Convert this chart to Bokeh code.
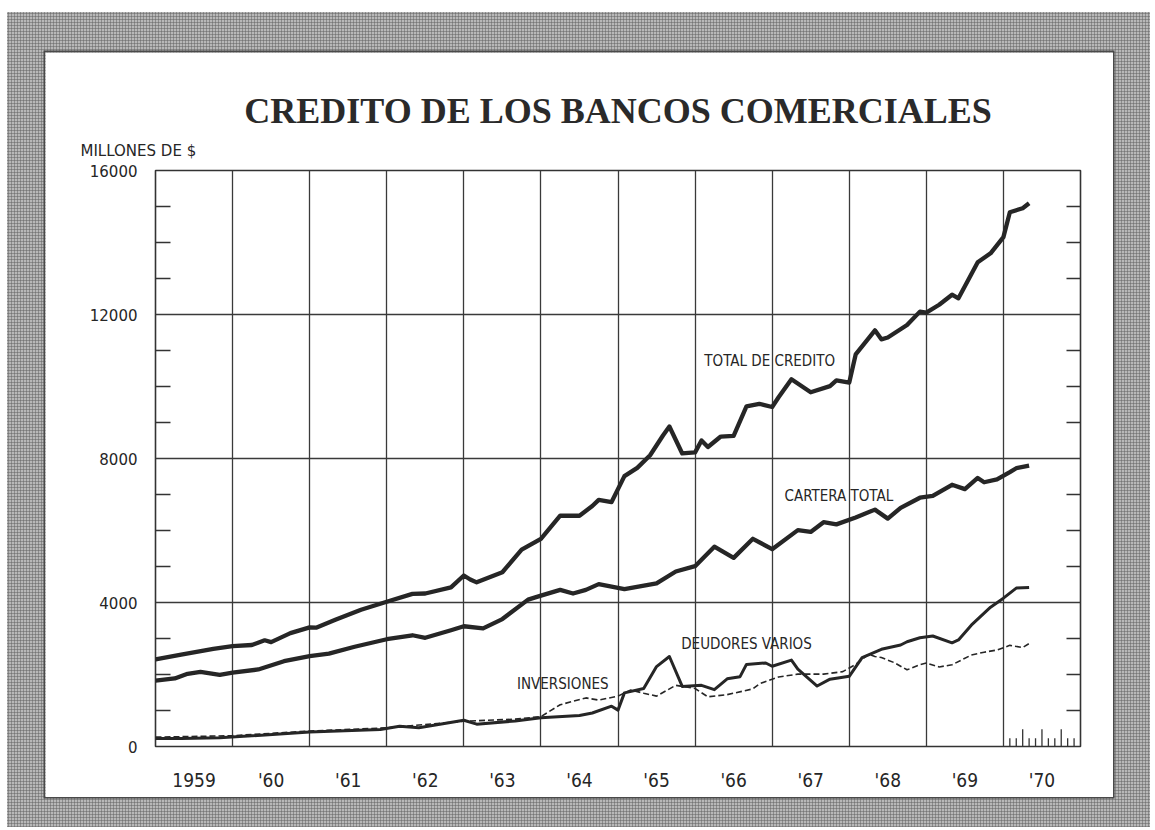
from bokeh.plotting import figure
from bokeh.models import FixedTicker, LinearAxis, Title, Range1d, ColumnDataSource
from bokeh.layouts import column
from bokeh.embed import file_html
from bokeh.resources import INLINE
from bokeh.core.properties import value

# ---------------- data ----------------
title_text = "CREDITO DE LOS BANCOS COMERCIALES"
y_unit_text = "MILLONES DE $"
year_labels = ["1959", "'60", "'61", "'62", "'63", "'64", "'65", "'66", "'67", "'68", "'69", "'70"]
y_tick_values = [0, 4000, 8000, 12000, 16000]

# month index counted from January 1959
total_month = [0, 4, 9, 12, 15, 17, 18, 21, 24, 25, 28, 32, 36, 40, 42, 46, 48, 49, 50, 54,
               57, 60, 63, 66, 68, 69, 71, 73, 75, 77, 79, 80, 82, 84, 85, 86, 88, 90, 92, 94,
               96, 97, 99, 102, 105, 106, 108, 109, 112, 113, 114, 117, 119, 120, 122, 124,
               125, 128, 130, 132, 133, 135, 136]
total_value = [2420, 2550, 2710, 2790, 2820, 2950, 2900, 3150, 3310, 3300, 3520, 3800, 4020,
               4240, 4250, 4420, 4750, 4640, 4560, 4840, 5470, 5770, 6410, 6410, 6680, 6850,
               6790, 7510, 7740, 8090, 8640, 8890, 8140, 8170, 8500, 8320, 8610, 8630, 9450,
               9520, 9430, 9700, 10200, 9840, 10010, 10170, 10110, 10890, 11560, 11310, 11360,
               11710, 12080, 12050, 12270, 12550, 12450, 13450, 13700, 14150, 14840, 14950, 15090]

cartera_month = [0, 3, 5, 7, 10, 12, 16, 20, 24, 27, 31, 36, 40, 42, 46, 48, 51, 54, 58, 60,
                 63, 65, 67, 69, 73, 78, 81, 84, 87, 90, 93, 96, 100, 102, 104, 106, 109, 112,
                 114, 116, 119, 121, 124, 126, 128, 129, 131, 133, 134, 136]
cartera_value = [1830, 1890, 2020, 2070, 1990, 2050, 2140, 2370, 2510, 2580, 2770, 2980, 3090,
                 3020, 3230, 3340, 3280, 3540, 4080, 4190, 4350, 4250, 4350, 4510, 4370, 4530,
                 4860, 5010, 5550, 5240, 5770, 5480, 6010, 5960, 6230, 6170, 6360, 6580, 6330,
                 6630, 6910, 6960, 7270, 7150, 7460, 7340, 7420, 7620, 7730, 7800]

deudores_month = [0, 4, 10, 24, 35, 38, 41, 48, 50, 56, 60, 66, 68, 71, 72, 73, 76, 78, 80, 82,
                  85, 87, 89, 91, 92, 95, 96, 99, 100, 103, 105, 108, 110, 113, 116, 117, 119,
                  121, 124, 125, 127, 130, 132, 134, 136]
deudores_value = [220, 220, 240, 400, 470, 560, 520, 730, 620, 710, 800, 860, 930, 1120, 1010,
                  1490, 1610, 2220, 2500, 1670, 1700, 1580, 1880, 1940, 2280, 2320, 2230, 2400,
                  2150, 1680, 1870, 1950, 2470, 2700, 2820, 2910, 3020, 3070, 2880, 2960, 3370,
                  3870, 4120, 4400, 4420]

inversiones_month = [0, 12, 24, 36, 48, 56, 60, 63, 67, 69, 72, 74, 76, 78, 81, 84, 86, 89, 93,
                     94, 97, 100, 104, 107, 109, 111, 112, 113, 115, 117, 119, 120, 122, 124,
                     127, 129, 131, 133, 135, 136]
inversiones_value = [260, 300, 430, 520, 700, 760, 830, 1160, 1350, 1290, 1400, 1570, 1480, 1400,
                     1700, 1610, 1380, 1440, 1600, 1740, 1930, 2010, 2010, 2080, 2280, 2560, 2500,
                     2470, 2330, 2130, 2270, 2320, 2210, 2270, 2540, 2620, 2680, 2810, 2750, 2860]

series_labels = ["TOTAL DE CREDITO", "CARTERA TOTAL", "DEUDORES VARIOS", "INVERSIONES"]

# ---------------- helpers ----------------
START = 1959


def to_year(months):
    return [START + m / 12.0 for m in months]


INK = "#262626"
COND = "'Liberation Sans Narrow', 'DejaVu Sans Condensed', 'Roboto Condensed', sans-serif"
WIDE = "'DejaVu Sans', Verdana, sans-serif"
SERIF = "'Liberation Serif', 'DejaVu Serif', serif"

p = figure(width=1068, height=745,
           x_range=Range1d(START, START + 12), y_range=Range1d(0, 16000),
           output_backend="svg", toolbar_location=None,
           min_border_left=110, min_border_right=33, min_border_top=118, min_border_bottom=51,
           background_fill_color="white", border_fill_color="white")
p.outline_line_color = "#333333"
p.outline_line_width = 1.6

# main title (outermost) and unit label (next to the frame)
p.title.text = title_text
p.title.align = "center"
p.title.standoff = -2
p.title.text_font = SERIF
p.title.text_font_size = "36px"
p.title.text_font_style = "bold"
p.title.text_color = "#2a2a2a"

unit_title = Title(text=y_unit_text, align="left", offset=-75, standoff=21, text_font=WIDE,
                   text_font_size="15px", text_font_style="normal", text_color=INK)
p.add_layout(unit_title, "above")

# x axis: year labels centred in each year
year_centres = [START + 0.5 + i for i in range(len(year_labels))]
p.xaxis.ticker = FixedTicker(ticks=year_centres)
p.xaxis.major_label_overrides = {c: lab for c, lab in zip(year_centres, year_labels)}
p.xaxis.major_tick_line_color = None
p.xaxis.minor_tick_line_color = None
p.xaxis.axis_line_color = None
p.xaxis.major_label_standoff = 16
p.xaxis.major_label_text_font = COND
p.xaxis.major_label_text_font_size = "19px"
p.xaxis.major_label_text_color = INK

# y axis
y_minor = [k * 1000 for k in range(1, 16) if k % 4]
yt = FixedTicker(ticks=y_tick_values, minor_ticks=y_minor)
p.yaxis.ticker = yt
p.yaxis.major_tick_line_color = None
p.yaxis.axis_line_color = None
p.yaxis.minor_tick_in = 15
p.yaxis.minor_tick_out = 0
p.yaxis.minor_tick_line_color = "#333333"
p.yaxis.minor_tick_line_width = 1.3
p.yaxis.major_label_standoff = 12
p.yaxis.major_label_text_font = WIDE
p.yaxis.major_label_text_font_size = "15px"
p.yaxis.major_label_text_color = INK
p.yaxis.major_label_overrides = {v: str(v) for v in y_tick_values}

right = LinearAxis(ticker=yt, axis_line_color=None, major_tick_line_color=None,
                   minor_tick_in=14, minor_tick_out=0, minor_tick_line_color="#333333",
                   minor_tick_line_width=1.3, major_label_standoff=0,
                   major_label_overrides={v: "" for v in y_tick_values})
p.add_layout(right, "right")

# grid
p.xgrid.ticker = FixedTicker(ticks=[START + i for i in range(1, 12)])
p.ygrid.ticker = FixedTicker(ticks=y_tick_values[1:-1])
for g in (p.xgrid, p.ygrid):
    g.grid_line_color = "#3a3a3a"
    g.grid_line_width = 1.3
    g.grid_line_alpha = 1.0

# monthly ticks in the last year
m_ticks = [START + 11 + k / 12.0 for k in range(1, 12)]
m_heights = [480 if k % 3 == 0 else 230 for k in range(1, 12)]
p.segment(x0=m_ticks, y0=[0] * len(m_ticks), x1=m_ticks, y1=m_heights,
          line_color="#333333", line_width=1.3)

# series
p.line(to_year(inversiones_month), inversiones_value, line_color=INK, line_width=1.6,
       line_dash="6 3")
p.line(to_year(deudores_month), deudores_value, line_color=INK, line_width=3.0,
       line_join="round")
p.line(to_year(cartera_month), cartera_value, line_color=INK, line_width=4.3,
       line_join="round")
p.line(to_year(total_month), total_value, line_color=INK, line_width=4.3,
       line_join="round")

# series labels
lab_src = ColumnDataSource(dict(
    x=[1966.12, 1967.16, 1965.82, 1963.69],
    y=[10700, 6950, 2840, 1750],
    text=series_labels))
p.text(x="x", y="y", text="text", source=lab_src, text_font=value(COND),
       text_font_size="15px", text_baseline="middle", text_align="left", text_color=INK)

p.styles = {"box-shadow": "0 0 0 1.5px #4a4a4a"}

layout = column(p, styles={
    "margin-left": "7px",
    "margin-top": "12px",
    "background-color": "#b8b8b8",
    "background-image": "radial-gradient(circle, #777777 0.9px, transparent 1.2px)",
    "background-size": "3px 3px",
    "padding": "40px 37px 30px 38px",
})

open("out.html", "w").write(file_html(layout, INLINE))
